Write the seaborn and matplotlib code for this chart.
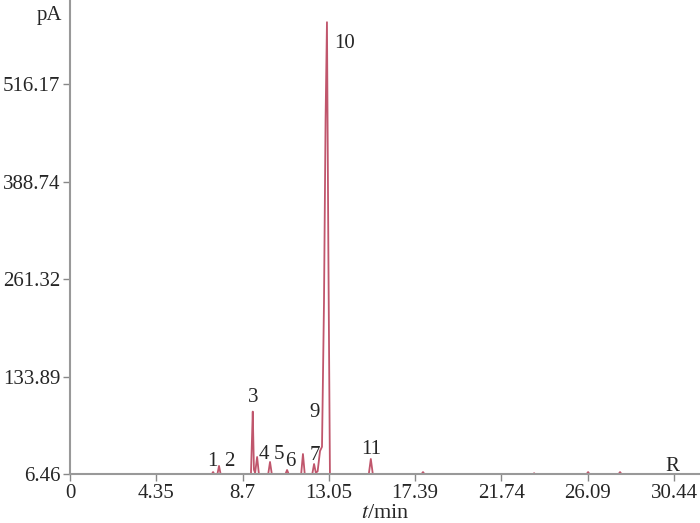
import matplotlib
matplotlib.use("Agg")
import matplotlib.pyplot as plt
import seaborn as sns
import pandas as pd

# Chromatogram trace
time_min = [0.0, 7.15, 7.21, 7.27, 7.43, 7.51, 7.59, 9.12, 9.18, 9.21, 9.27, 9.33, 9.43, 9.52,
            9.99, 10.08, 10.17, 10.86, 10.94, 11.02, 11.65, 11.74, 11.83, 12.21, 12.30, 12.39,
            12.48, 12.60, 12.70, 12.80, 12.88, 12.95, 13.02, 13.10, 15.06, 15.16, 15.26,
            17.72, 17.79, 17.86, 23.35, 23.39, 23.43, 26.04, 26.11, 26.18, 27.65, 27.72, 27.79, 29.89]
signal_pA = [6.46, 6.46, 9.0, 6.46, 6.46, 17.0, 6.46, 6.46, 60.0, 88.0, 12.0, 8.0, 28.7, 6.46,
             6.46, 22.2, 6.46, 6.46, 11.7, 6.46, 6.46, 32.6, 6.46, 6.46, 19.5, 8.0,
             10.0, 36.5, 42.0, 230.0, 470.0, 597.0, 300.0, 6.46, 6.46, 26.1, 6.46,
             6.46, 9.0, 6.46, 6.46, 7.5, 6.46, 6.46, 9.0, 6.46, 6.46, 9.0, 6.46, 6.46]

# Peak labels
peak_labels = ["1", "2", "3", "4", "5", "6", "7", "9", "10", "11", "R"]
label_t = [7.16, 8.01, 9.22, 9.78, 10.53, 11.09, 12.35, 12.30, 13.86, 15.17, 30.34]
label_y = [22.2, 22.2, 107.0, 31.3, 31.3, 22.2, 30.0, 86.2, 568.5, 39.0, 16.9]

xticks = [0, 4.35, 8.7, 13.05, 17.39, 21.74, 26.09, 30.44]
xtick_labels = ["0", "4.35", "8.7", "13.05", "17.39", "21.74", "26.09", "30.44"]
yticks = [6.46, 133.89, 261.32, 388.74, 516.17]
ytick_labels = ["6.46", "133.89", "261.32", "388.74", "516.17"]

sns.set_style("ticks")
plt.rcParams["font.family"] = ["Liberation Serif", "DejaVu Serif"]
plt.rcParams["mathtext.fontset"] = "stix"

fig = plt.figure(figsize=(7, 5.23), dpi=100)
ax = fig.add_axes([0.1, 0.0937, 0.9, 0.9063])

df = pd.DataFrame({"t": time_min, "s": signal_pA})
sns.lineplot(data=df, x="t", y="s", ax=ax, estimator=None, sort=False,
             color="#c0566c", linewidth=1.3)

ax.set_xlim(0, 31.75)
ax.set_ylim(6.46, 626)
ax.set_xticks(xticks)
ax.set_xticklabels(xtick_labels, fontsize=15)
ax.set_yticks(yticks)
ax.set_yticklabels(ytick_labels, fontsize=15)
ax.tick_params(axis="both", direction="out", length=5, width=1, color="#888888", pad=2)

for side in ["top", "right"]:
    ax.spines[side].set_visible(False)
for side in ["left", "bottom"]:
    ax.spines[side].set_color("#999999")
    ax.spines[side].set_linewidth(1.5)

ax.set_xlabel(r"$t$/min", fontsize=16, labelpad=1)
ax.set_ylabel("")
ax.text(-0.012, 0.968, "pA", transform=ax.transAxes, ha="right", va="center", fontsize=15)

for lab, tx, ty in zip(peak_labels, label_t, label_y):
    ax.text(tx, ty, lab, ha="center", va="center", fontsize=15)

fig.savefig("out.png", dpi=100)
